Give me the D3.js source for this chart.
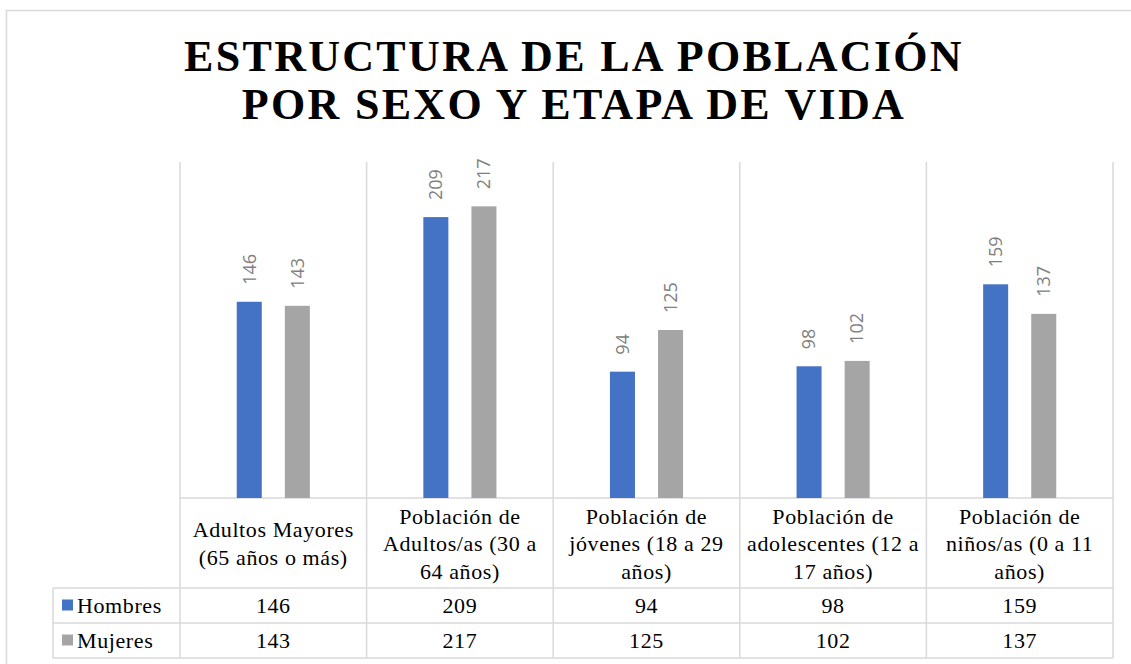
<!DOCTYPE html>
<html>
<head>
<meta charset="utf-8">
<script src="https://cdn.jsdelivr.net/npm/d3@7"></script>
<style>
  body { margin: 0; background: #fff; }
  svg { display: block; }
</style>
</head>
<body>
<div id="chart"></div>
<script>
// chart data
var categories = [
  ["Adultos Mayores", "(65 años o más)"],
  ["Población de", "Adultos/as (30 a", "64 años)"],
  ["Población de", "jóvenes (18 a 29", "años)"],
  ["Población de", "adolescentes (12 a", "17 años)"],
  ["Población de", "niños/as (0 a 11", "años)"]
];
var seriesNames = ["Hombres", "Mujeres"];
var hombres = [146, 209, 94, 98, 159];
var mujeres = [143, 217, 125, 102, 137];
var titleLines = ["ESTRUCTURA DE LA POBLACIÓN", "POR SEXO Y ETAPA DE VIDA"];

var colors = ["#4472C4", "#A5A5A5"];
var gridColor = "#d9d9d9";

var svgWidth = 1131;
var svgHeight = 664;

var plot = { left: 180, right: 1113, top: 162, bottom: 498 };
var tableLeft = 53;
var rowY = [498, 588, 623, 658]; // header, hombres, mujeres, bottom

var svg = d3.select("#chart")
  .append("svg")
  .attr("width", svgWidth)
  .attr("height", svgHeight);

// chart border
svg.append("rect")
  .attr("x", 6.5)
  .attr("y", 10.5)
  .attr("width", 1200)
  .attr("height", 700)
  .attr("fill", "none")
  .attr("stroke", gridColor)
  .attr("stroke-width", 1.5);

// title
svg.append("g")
  .selectAll("text")
  .data(titleLines)
  .enter()
  .append("text")
  .attr("x", 574)
  .attr("y", (d, i) => 71 + i * 48)
  .attr("text-anchor", "middle")
  .style("font-family", "'Liberation Serif', 'Times New Roman', serif")
  .style("font-weight", "bold")
  .style("font-size", "44px")
  .style("letter-spacing", "2.3px")
  .attr("fill", "#000")
  .text(d => d);

// scales
var xScale = d3.scaleBand()
  .domain(d3.range(categories.length))
  .range([plot.left, plot.right])
  .paddingInner(0)
  .paddingOuter(0);

var yScale = d3.scaleLinear()
  .domain([0, 250])
  .range([plot.bottom, plot.top]);

var xSub = d3.scaleBand()
  .domain(seriesNames)
  .range([0, xScale.bandwidth()])
  .paddingInner(0.48)
  .paddingOuter(1.18);

// vertical grid / table lines
var boundaries = d3.range(categories.length + 1).map(i =>
  i < categories.length ? xScale(i) : xScale(i - 1) + xScale.bandwidth());

svg.append("g")
  .selectAll("line")
  .data(boundaries)
  .enter()
  .append("line")
  .attr("x1", d => d)
  .attr("x2", d => d)
  .attr("y1", plot.top)
  .attr("y2", rowY[3])
  .attr("stroke", gridColor)
  .attr("stroke-width", 1.5);

// table left border
svg.append("line")
  .attr("x1", tableLeft).attr("x2", tableLeft)
  .attr("y1", rowY[1]).attr("y2", rowY[3])
  .attr("stroke", gridColor)
  .attr("stroke-width", 1.5);

// horizontal table lines
svg.append("g")
  .selectAll("line")
  .data(rowY)
  .enter()
  .append("line")
  .attr("x1", (d, i) => i === 0 ? plot.left : tableLeft)
  .attr("x2", plot.right)
  .attr("y1", d => d)
  .attr("y2", d => d)
  .attr("stroke", gridColor)
  .attr("stroke-width", 1.5);

// bars
var seriesData = [hombres, mujeres];
var groups = svg.append("g")
  .selectAll("g")
  .data(seriesData)
  .enter()
  .append("g")
  .attr("fill", (d, i) => colors[i]);

groups.each(function(values, s) {
  var g = d3.select(this);
  g.selectAll("rect")
    .data(values)
    .enter()
    .append("rect")
    .attr("x", (d, i) => xScale(i) + xSub(seriesNames[s]))
    .attr("y", d => yScale(d))
    .attr("width", xSub.bandwidth())
    .attr("height", d => yScale(0) - yScale(d));

  // rotated data labels
  g.selectAll("text")
    .data(values)
    .enter()
    .append("text")
    .attr("transform", (d, i) => {
      var cx = xScale(i) + xSub(seriesNames[s]) + xSub.bandwidth() / 2;
      return `translate(${cx}, ${yScale(d) - 17}) rotate(-90)`;
    })
    .attr("dy", "0.35em")
    .attr("fill", "#808080")
    .style("font-family", "'Open Sans', 'Liberation Sans', sans-serif")
    .style("font-size", "18px")
    .text(d => d);
});

// category labels in table header
var serif = "'Liberation Serif', 'Times New Roman', serif";
categories.forEach(function(lines, i) {
  var cx = xScale(i) + xScale.bandwidth() / 2;
  svg.append("g")
    .selectAll("text")
    .data(lines)
    .enter()
    .append("text")
    .attr("x", cx)
    .attr("y", (d, j) => 551 + (j - (lines.length - 1) / 2) * 27.5)
    .attr("text-anchor", "middle")
    .style("font-family", serif)
    .style("font-size", "22px")
    .style("letter-spacing", "0.6px")
    .attr("fill", "#000")
    .text(d => d);
});

// legend keys + values rows
seriesData.forEach(function(values, s) {
  var yMid = (rowY[s + 1] + rowY[s + 2]) / 2;
  svg.append("rect")
    .attr("x", 62)
    .attr("y", yMid - 6)
    .attr("width", 11)
    .attr("height", 11)
    .attr("fill", colors[s]);
  svg.append("text")
    .attr("x", 77)
    .attr("y", yMid + 7)
    .style("font-family", serif)
    .style("font-size", "22px")
    .style("letter-spacing", "0.6px")
    .attr("fill", "#000")
    .text(seriesNames[s]);

  svg.append("g")
    .selectAll("text")
    .data(values)
    .enter()
    .append("text")
    .attr("x", (d, i) => xScale(i) + xScale.bandwidth() / 2)
    .attr("y", yMid + 7)
    .attr("text-anchor", "middle")
    .style("font-family", serif)
    .style("font-size", "22px")
    .style("letter-spacing", "0.6px")
    .attr("fill", "#000")
    .text(d => d);
});
</script>
</body>
</html>
